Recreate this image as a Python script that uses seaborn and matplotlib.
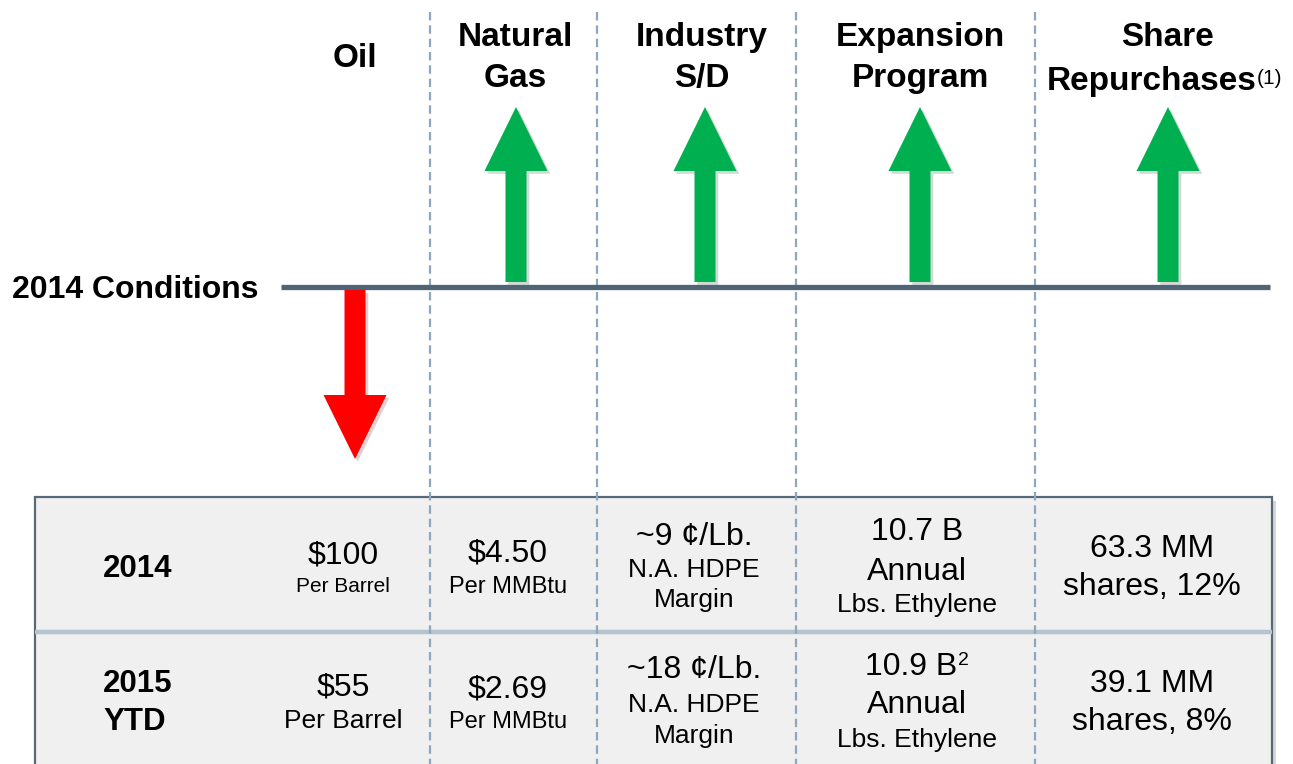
import matplotlib
matplotlib.use("Agg")
import matplotlib.pyplot as plt
import matplotlib.patheffects as pe
from matplotlib.patches import FancyArrow, Rectangle
import seaborn as sns

# ---------------- data ----------------
headers = [["Oil"], ["Natural", "Gas"], ["Industry", "S/D"],
           ["Expansion", "Program"], ["Share", "Repurchases"]]
header_note = ["", "", "", "", "(1)"]
directions = [-1, 1, 1, 1, 1]          # change vs. 2014 conditions
baseline_label = "2014 Conditions"
row_labels = [["2014"], ["2015", "YTD"]]

oil_price = ["$100", "$55"]
oil_unit = ["Per Barrel", "Per Barrel"]
gas_price = ["$4.50", "$2.69"]
gas_unit = ["Per MMBtu", "Per MMBtu"]
hdpe_margin = ["~9 ¢/Lb.", "~18 ¢/Lb."]
hdpe_label = ["N.A. HDPE", "Margin"]
ethylene_cap = ["10.7 B", "10.9 B"]
ethylene_note = ["", "2"]
ethylene_label = ["Annual", "Lbs. Ethylene"]
shares_bought = ["63.3 MM", "39.1 MM"]
shares_pct = ["12%", "8%"]

# ---------------- style ----------------
sns.set_theme(style="white")
plt.rcParams["font.family"] = ["Liberation Sans", "DejaVu Sans"]
plt.rcParams["text.color"] = "black"

GREEN = "#00b050"
RED = "#ff0000"
LINE = "#4f6577"
DASH = "#8ea7bd"
FILL = "#f0f0f0"

fig = plt.figure(figsize=(12.93, 7.64), dpi=100)
ax = fig.add_axes([0, 0, 1, 1])
ax.set_xlim(0, 1293)
ax.set_ylim(764, 0)
ax.axis("off")

# column layout
col_x = [355, 515, 702, 920, 1167]
val_x = [343, 508, 694, 917, 1152]
dividers = [430, 597, 796, 1035]

# table box
ax.add_patch(Rectangle((39, 501), 1237, 300, facecolor="#d6d6d6",
                       edgecolor="none", zorder=1))
ax.add_patch(Rectangle((35, 497), 1237, 300, facecolor=FILL,
                       edgecolor="#56697b", lw=1.6, zorder=2))
ax.plot([35, 1272], [632, 632], color="#b3c3cf", lw=3.2, zorder=3,
        solid_capstyle="butt")

# dashed dividers
for x in dividers:
    ax.plot([x, x], [12, 764], color=DASH, lw=1.6,
            linestyle=(0, (3.8, 2.2)), zorder=4)

# baseline
ax.plot([281, 1270], [287, 287], color=LINE, lw=3.8, zorder=5,
        solid_capstyle="butt")
ax.text(12, 298, baseline_label, fontsize=23, fontweight="bold",
        ha="left", va="baseline", color="black")

# headers
for i, lines in enumerate(headers):
    if len(lines) == 1:
        bases = [67]
    else:
        bases = [46, 87 if i < 4 else 90]
    hx = col_x[i]
    for j, (ln, b) in enumerate(zip(lines, bases)):
        x = hx
        if i == 4 and j == 1:
            x = 1152
        t = ax.text(x, b, ln, fontsize=24, fontweight="bold",
                    ha="center", va="baseline", color="black")
        if header_note[i] and j == len(lines) - 1:
            ax.annotate(header_note[i], xy=(1.0, 1.0), xycoords=t,
                        xytext=(0, -2), textcoords="offset points",
                        fontsize=15, ha="left", va="top", color="black")

# arrows
shadow = [pe.SimplePatchShadow(offset=(2, -2), alpha=0.18), pe.Normal()]
for i, d in enumerate(directions):
    arrow_x = [355, 516, 705, 920, 1168][i]
    if d > 0:
        y0, y1 = 282, 107
    else:
        y0, y1 = 290, 459
    arr = FancyArrow(arrow_x, y0, 0, y1 - y0, width=21, head_width=63,
                     head_length=64, length_includes_head=True,
                     color=GREEN if d > 0 else RED, lw=0, zorder=6)
    arr.set_path_effects(shadow)
    ax.add_patch(arr)

# table contents
row_base = [
    dict(year=[577], oil=(563, 592), gas=(562, 593), hdpe=(545, 577, 607),
         eth=(540, 580, 612), sh=(557, 595)),
    dict(year=[692, 730], oil=(695, 728), gas=(697, 728), hdpe=(678, 712, 743),
         eth=(675, 713, 747), sh=(692, 730)),
]
oil_unit_size = [15, 19]

for r in range(2):
    rb = row_base[r]
    for ln, b in zip(row_labels[r], rb["year"]):
        ax.text(103, b, ln, fontsize=22.5, fontweight="bold",
                ha="left", va="baseline", color="black", zorder=7)
    # oil
    ax.text(val_x[0], rb["oil"][0], oil_price[r], fontsize=23,
            ha="center", va="baseline", zorder=7)
    ax.text(val_x[0], rb["oil"][1], oil_unit[r], fontsize=oil_unit_size[r],
            ha="center", va="baseline", zorder=7)
    # gas
    ax.text(val_x[1], rb["gas"][0], gas_price[r], fontsize=23,
            ha="center", va="baseline", zorder=7)
    ax.text(val_x[1], rb["gas"][1], gas_unit[r], fontsize=17,
            ha="center", va="baseline", zorder=7)
    # hdpe
    ax.text(val_x[2], rb["hdpe"][0], hdpe_margin[r], fontsize=23,
            ha="center", va="baseline", zorder=7)
    for ln, b in zip(hdpe_label, rb["hdpe"][1:]):
        ax.text(val_x[2], b, ln, fontsize=19, ha="center",
                va="baseline", zorder=7)
    # ethylene
    ex = val_x[3] - (6 if ethylene_note[r] else 0)
    t = ax.text(ex, rb["eth"][0], ethylene_cap[r], fontsize=23,
                ha="center", va="baseline", zorder=7)
    if ethylene_note[r]:
        ax.annotate(ethylene_note[r], xy=(1.0, 1.0), xycoords=t,
                    xytext=(0.5, 0), textcoords="offset points",
                    fontsize=14, ha="left", va="top", zorder=7)
    ax.text(val_x[3], rb["eth"][1], ethylene_label[0], fontsize=23,
            ha="center", va="baseline", zorder=7)
    ax.text(val_x[3], rb["eth"][2], ethylene_label[1], fontsize=19,
            ha="center", va="baseline", zorder=7)
    # shares
    ax.text(val_x[4], rb["sh"][0], shares_bought[r], fontsize=23,
            ha="center", va="baseline", zorder=7)
    ax.text(val_x[4], rb["sh"][1], f"shares, {shares_pct[r]}", fontsize=23,
            ha="center", va="baseline", zorder=7)

fig.savefig("out.png", dpi=100, facecolor="white")
